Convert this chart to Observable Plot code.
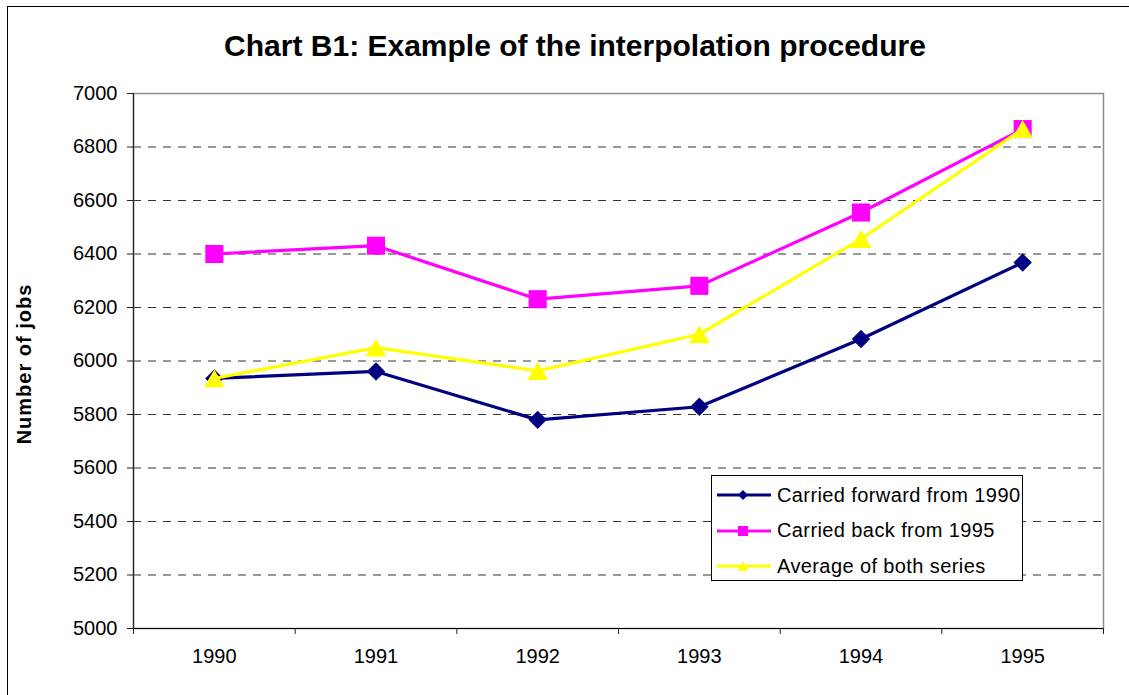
<!DOCTYPE html>
<html>
<head>
<meta charset="utf-8">
<script src="https://cdn.jsdelivr.net/npm/d3@7"></script>
<script src="https://cdn.jsdelivr.net/npm/@observablehq/plot@0.6"></script>
<style>
  html, body { margin: 0; padding: 0; background: #fff; }
  #wrap { position: relative; width: 1129px; height: 695px; overflow: hidden; font-family: "Liberation Sans", Arial, sans-serif; }
  #border { position: absolute; left: 7px; top: 6px; right: -5px; bottom: -5px; border-left: 1.5px solid #000; border-top: 1.5px solid #000; pointer-events: none; }
  #title { position: absolute; left: 0; width: 1150px; top: 29px; text-align: center; font-weight: bold; font-size: 30px; color: #000; white-space: nowrap; }
  #ylabel { position: absolute; left: 34px; top: 364px; transform-origin: 0 0; transform: rotate(-90deg) translate(-50%, -100%); font-weight: bold; font-size: 20px; letter-spacing: 1px; white-space: nowrap; line-height: 1; }
  #legend { position: absolute; left: 711px; top: 475px; width: 312px; height: 106px; border: 1px solid #000; background: #fff; box-sizing: border-box; }
  .lrow { position: absolute; left: 5px; height: 24px; display: flex; align-items: center; }
  .lrow span { font-size: 20px; margin-left: 4px; letter-spacing: 0.4px; white-space: nowrap; }
</style>
</head>
<body>
<div id="wrap">
  <div id="chart"></div>
  <div id="border"></div>
  <div id="title">Chart B1: Example of the interpolation procedure</div>
  <div id="ylabel">Number of jobs</div>
  <div id="legend"></div>
</div>
<script>
const years = [1990, 1991, 1992, 1993, 1994, 1995];
const forward = [5935, 5961, 5780, 5829, 6082, 6368];
const back = [6400, 6431, 6231, 6281, 6555, 6867];
const average = [5935, 6050, 5963, 6100, 6456, 6867];
const yTicks = [5000, 5200, 5400, 5600, 5800, 6000, 6200, 6400, 6600, 6800, 7000];
const gridTicks = [5200, 5400, 5600, 5800, 6000, 6200, 6400, 6600, 6800];
const seriesNames = ["Carried forward from 1990", "Carried back from 1995", "Average of both series"];
const colors = ["#000080", "#FF00FF", "#FFFF00"];
const symbols = ["diamond2", "square", "triangle"];

const xBounds = [years[0] - 0.5, ...years.map(y => y + 0.5)];
const seriesValues = [forward, back, average];
const series = seriesValues.map((vals, s) => years.map((yr, i) => ({year: yr, value: vals[i], series: seriesNames[s]})));

const dotR = [8.3, 10.2, 7.7];
const dotDy = [0, 0, 3];

const marks = [
  Plot.gridY(gridTicks, {stroke: "#333", strokeOpacity: 1, strokeDasharray: "8,7", strokeWidth: 1}),
  Plot.frame({stroke: "#8c8c8c", strokeWidth: 1.5}),
  Plot.ruleX([xBounds[0]], {stroke: "#222", strokeWidth: 1.2}),
  Plot.ruleY([yTicks[0]], {stroke: "#000", strokeWidth: 1.2}),
  Plot.axisY(yTicks, {label: null, tickSize: 6, tickPadding: 10, tickFormat: d => String(d), fontSize: 20, stroke: "#222", fill: "#000"}),
  Plot.axisX(xBounds, {label: null, tickSize: 6, tickFormat: () => "", stroke: "#222"}),
  Plot.axisX(years, {label: null, tickSize: 0, tickPadding: 20, tickFormat: d => String(d), fontSize: 20, fill: "#000"})
];
series.forEach((data, s) => {
  marks.push(Plot.line(data, {x: "year", y: "value", stroke: colors[s], strokeWidth: 3.2}));
  marks.push(Plot.dot(data, {x: "year", y: "value", symbol: () => symbols[s], fill: colors[s], r: dotR[s], dy: dotDy[s]}));
});

const chart = Plot.plot({
  width: 1129,
  height: 695,
  marginTop: 93,
  marginRight: 26,
  marginBottom: 67,
  marginLeft: 133,
  style: {fontFamily: '"Liberation Sans", Arial, sans-serif', background: "transparent", color: "#000"},
  x: {type: "linear", domain: [xBounds[0], xBounds[xBounds.length - 1]], axis: null, label: null},
  y: {domain: [yTicks[0], yTicks[yTicks.length - 1]], axis: null, label: null},
  symbol: {type: "identity"},
  marks
});
document.getElementById("chart").appendChild(chart);

// Legend
const legend = d3.select("#legend");
const legendSizes = [64, 100, 52];
seriesNames.forEach((name, s) => {
  const row = legend.append("div").attr("class", "lrow").style("top", (7 + s * 35.5) + "px");
  const svg = row.append("svg").attr("width", 56).attr("height", 24);
  svg.append("line").attr("x1", 0).attr("x2", 54).attr("y1", 12).attr("y2", 12)
    .attr("stroke", colors[s]).attr("stroke-width", 3.2);
  const symType = [d3.symbolDiamond2, d3.symbolSquare, d3.symbolTriangle][s];
  svg.append("path").attr("d", d3.symbol(symType, legendSizes[s])())
    .attr("transform", `translate(26,${s === 2 ? 13.5 : 12})`).attr("fill", colors[s]);
  row.append("span").text(name);
});
</script>
</body>
</html>
